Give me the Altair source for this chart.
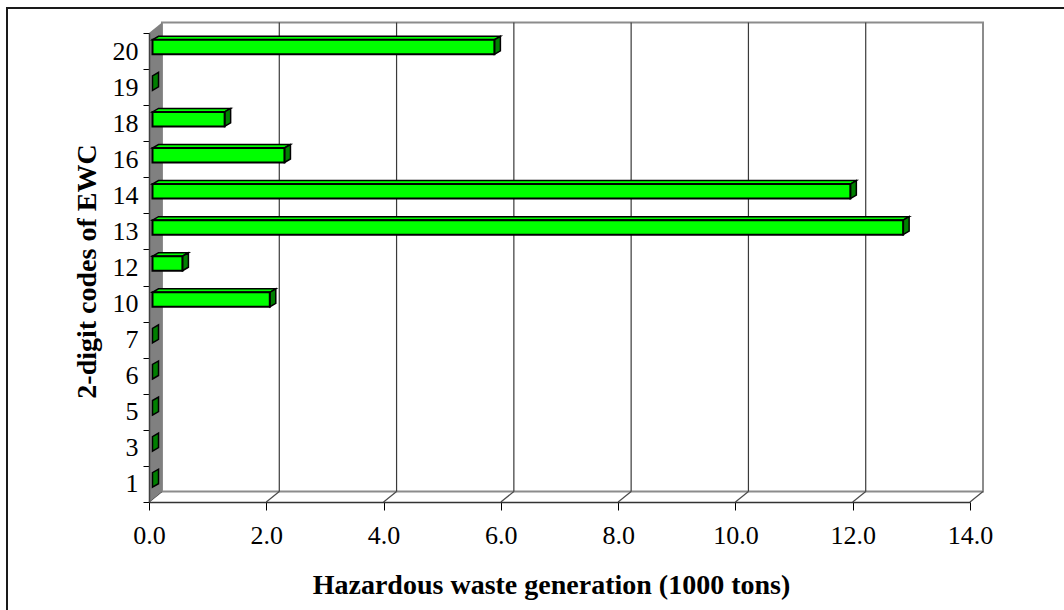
import altair as alt
import pandas as pd

# ---- data ----
codes = ['1', '3', '5', '6', '7', '10', '12', '13', '14', '16', '18', '19', '20']
values = [0, 0, 0, 0, 0, 2.00, 0.51, 12.80, 11.90, 2.25, 1.23, 0, 5.83]
x_ticks = [0, 2, 4, 6, 8, 10, 12, 14]
x_title = 'Hazardous waste generation (1000 tons)'
y_title = '2-digit codes of EWC'

# ---- geometry / style ----
X_MAX = 14
N = len(codes)
W, H = 821, 469
ux = X_MAX / W          # data units per pixel (x)
uy = N / H              # data units per pixel (y)
WDX, WDY = 13 * ux, 10.5 * uy   # wall depth offset
BDX, BDY = 6 * ux, 3.5 * uy     # bar depth offset
S = 3.5 * ux                    # bar shift from front plane
B_LO, B_HI = 0.41, 0.812        # bar front face inside the band
FONT = 'Liberation Serif'

xs = alt.Scale(domain=[0, X_MAX], nice=False, zero=False)
ys = alt.Scale(domain=[0, N], nice=False, zero=False)

label_expr = '[' + ','.join("'%s'" % c for c in codes) + "][datum.value] || ''"
y_axis = alt.Axis(values=list(range(N + 1)), labelExpr=label_expr,
                  labelOffset=-H / N / 2, tickSize=6, tickColor='black', tickWidth=1,
                  domainColor='#404040', domainWidth=1.5, labelFont=FONT,
                  labelFontSize=26, labelColor='black', labelPadding=5,
                  labelOverlap=False, labelFlush=False, labelBound=False, grid=False,
                  title=y_title, titleFont=FONT, titleFontSize=28,
                  titleFontWeight='bold', titleColor='black', titleAngle=270,
                  titleX=-54, titleY=238, titleAlign='center',
                  titleBaseline='alphabetic', zindex=1)
x_axis = alt.Axis(values=x_ticks, format='.1f', tickSize=8, tickColor='black',
                  tickWidth=1, domainColor='#333333', domainWidth=1.5,
                  labelFont=FONT, labelFontSize=26, labelColor='black',
                  labelPadding=12, labelFlush=False, labelOverlap=False,
                  labelBound=False, grid=False,
                  title=x_title, titleFont=FONT, titleFontSize=28,
                  titleFontWeight='bold', titleColor='black',
                  titleX=402, titleY=91, titleAlign='center',
                  titleBaseline='alphabetic', zindex=1)


def X(f):
    return alt.X(f, type='quantitative', scale=xs, axis=x_axis)


def Y(f):
    return alt.Y(f, type='quantitative', scale=ys, axis=y_axis, stack=None)


# back wall
wall = pd.DataFrame({'x0': [WDX], 'x1': [X_MAX + WDX], 'y0': [WDY], 'y1': [N + WDY]})
back = alt.Chart(wall).mark_rect(fill='white', stroke='#8c8c8c', strokeWidth=2).encode(
    x=X('x0'), x2='x1', y=Y('y0'), y2='y1')

# gridlines on back wall
grid_df = pd.DataFrame({'x': [k + WDX for k in x_ticks[1:-1]],
                        'y0': WDY, 'y1': N + WDY})
grid = alt.Chart(grid_df).mark_rule(color='#3a3a3a', strokeWidth=1.2).encode(
    x=X('x'), y=Y('y0'), y2='y1')

# floor diagonals
diag_df = pd.DataFrame({'x': x_ticks, 'x2': [k + WDX for k in x_ticks],
                        'y': 0.0, 'y2': WDY})
diag = alt.Chart(diag_df).mark_rule(color='#4a4a4a', strokeWidth=1.2).encode(
    x=X('x'), x2='x2', y=Y('y'), y2='y2')

# left side wall
side_df = pd.DataFrame({'x': [0, WDX], 'y': [0, WDY], 'y2': [N, N + WDY]})
sidewall = alt.Chart(side_df).mark_area(fill='#808080', orient='vertical').encode(
    x=X('x'), y=Y('y'), y2='y2')

# bars
fronts, tops, sides = [], [], []
for i, (c, v) in enumerate(zip(codes, values)):
    lo, hi = i + B_LO, i + B_HI
    x0, x1 = S, v + S
    if v > 0:
        fronts.append({'code': c, 'x0': x0, 'x1': x1, 'y0': lo, 'y1': hi})
        for xx, ya, yb in [(x0, hi, hi), (x0 + BDX, hi, hi + BDY),
                           (x1, hi, hi + BDY), (x1 + BDX, hi + BDY, hi + BDY)]:
            tops.append({'code': c, 'x': xx, 'y': ya, 'y2': yb})
    for xx, ya, yb in [(x1, lo, hi), (x1 + BDX, lo + BDY, hi + BDY)]:
        sides.append({'code': c, 'x': xx, 'y': ya, 'y2': yb})

top_layer = alt.Chart(pd.DataFrame(tops)).mark_area(
    fill='#00ff00', stroke='black', strokeWidth=1.5, orient='vertical').encode(
    x=X('x'), y=Y('y'), y2='y2', detail='code:N')
side_layer = alt.Chart(pd.DataFrame(sides)).mark_area(
    fill='#008000', stroke='black', strokeWidth=1.5, orient='vertical').encode(
    x=X('x'), y=Y('y'), y2='y2', detail='code:N')

front_layer = alt.Chart(pd.DataFrame(fronts)).mark_rect(
    fill='#00ff00', stroke='black', strokeWidth=2).encode(
    x=X('x0'), x2='x1', y=Y('y0'), y2='y1')

border = alt.Chart(pd.DataFrame({'a': [0]})).mark_rect(
    filled=False, stroke='#1a1a1a', strokeWidth=2).encode(
    x=alt.value(-142), x2=alt.value(1000), y=alt.value(-25), y2=alt.value(700))

chart = alt.layer(back, grid, diag, sidewall, top_layer, side_layer, front_layer, border).properties(
    width=W, height=H,
    autosize=alt.AutoSizeParams(type='none'),
    padding={'left': 149, 'top': 33, 'right': 94, 'bottom': 108},
    background='white',
).configure_view(stroke=None)

chart.save('out.html', embed_options={'renderer': 'svg', 'actions': False})
